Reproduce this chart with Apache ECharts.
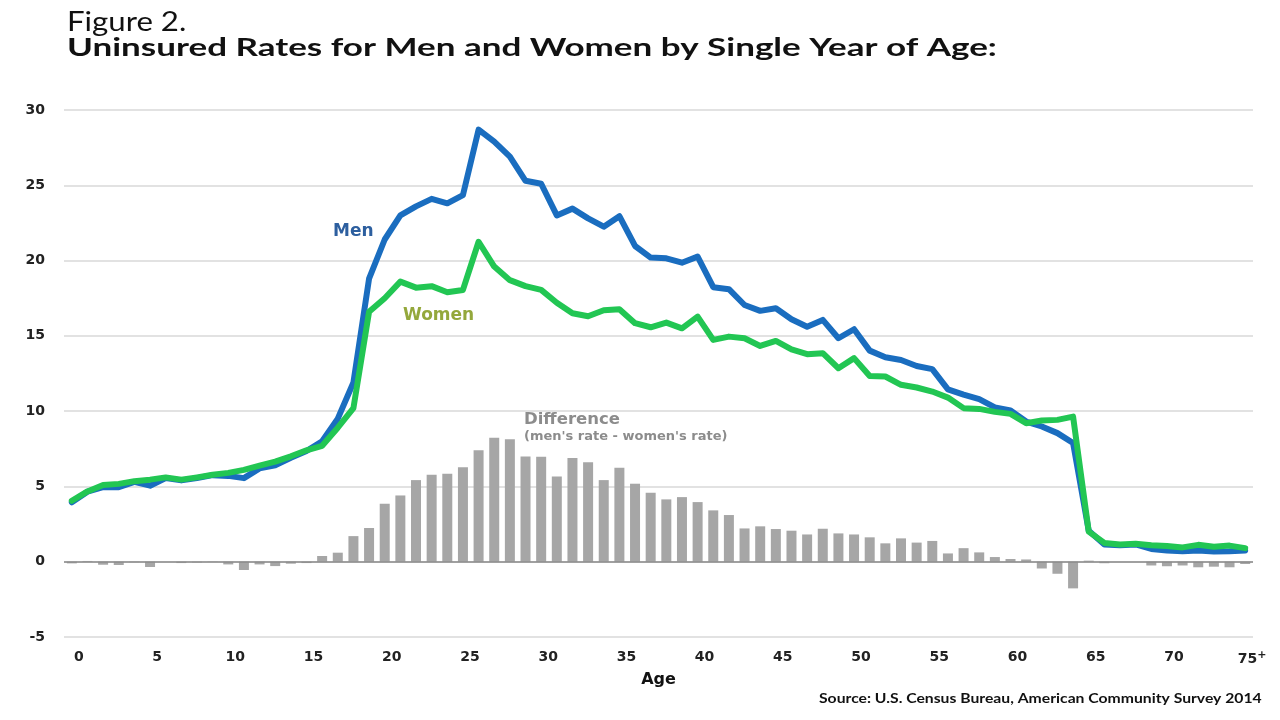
<!DOCTYPE html>
<html>
<head>
<meta charset="utf-8">
<script src="https://cdn.jsdelivr.net/npm/echarts@6/dist/echarts.min.js"></script>
<style>
  html, body { margin: 0; padding: 0; background: #ffffff; }
  #chart { width: 1280px; height: 720px; }
</style>
</head>
<body>
<div id="chart"></div>
<script>
// Ages 0..75 (75 = 75+)
const ages = Array.from({length: 76}, (_, i) => String(i));

// Uninsured rate (%) for men by single year of age
const men = [
  3.95, 4.65, 4.95, 4.95, 5.3, 5.05, 5.55, 5.4, 5.55, 5.75,
  5.7, 5.55, 6.2, 6.4, 6.9, 7.35, 8.0, 9.5, 11.9, 18.8,
  21.4, 23.0, 23.6, 24.1, 23.8, 24.35, 28.7, 27.9, 26.9, 25.3,
  25.1, 23.0, 23.45, 22.8, 22.25, 22.95, 20.97, 20.2, 20.15, 19.86,
  20.26, 18.23, 18.1, 17.05, 16.66, 16.83, 16.1, 15.6, 16.06, 14.84,
  15.44, 14.02, 13.58, 13.4, 13.0, 12.79, 11.45, 11.1, 10.8, 10.25,
  10.04, 9.31, 8.98, 8.54, 7.88, 2.05, 1.15, 1.1, 1.15, 0.85,
  0.75, 0.7, 0.75, 0.68, 0.7, 0.75
];

// Uninsured rate (%) for women by single year of age
const women = [
  4.05, 4.67, 5.1, 5.17, 5.35, 5.45, 5.6, 5.45, 5.6, 5.77,
  5.9, 6.1, 6.38, 6.65, 7.0, 7.4, 7.7, 8.9, 10.2, 16.6,
  17.5, 18.6, 18.2, 18.3, 17.9, 18.05, 21.25, 19.6, 18.7, 18.3,
  18.05, 17.2, 16.5, 16.3, 16.7, 16.77, 15.84, 15.57, 15.88, 15.5,
  16.28, 14.73, 14.95, 14.84, 14.33, 14.66, 14.1, 13.78, 13.85, 12.85,
  13.52, 12.34, 12.3, 11.75, 11.57, 11.3, 10.9, 10.2, 10.15, 9.95,
  9.82, 9.2, 9.38, 9.42, 9.64, 2.0, 1.25, 1.15, 1.2, 1.1,
  1.05, 0.95, 1.12, 1.0, 1.07, 0.9
];

// Difference (men's rate - women's rate)
const difference = [
  -0.11, 0.05, -0.2, -0.22, -0.03, -0.35, 0.0, -0.09, -0.05, -0.02,
  -0.18, -0.55, -0.18, -0.29, -0.13, -0.09, 0.38, 0.6, 1.7, 2.24,
  3.85, 4.4, 5.42, 5.77, 5.84, 6.28, 7.41, 8.23, 8.14, 6.99,
  6.97, 5.66, 6.88, 6.61, 5.42, 6.24, 5.18, 4.58, 4.14, 4.29,
  3.96, 3.41, 3.10, 2.21, 2.35, 2.17, 2.06, 1.81, 2.19, 1.88,
  1.81, 1.62, 1.22, 1.55, 1.27, 1.38, 0.55, 0.9, 0.62, 0.31,
  0.18, 0.15, -0.45, -0.8, -1.77, 0.07, -0.1, 0.0, 0.0, -0.25,
  -0.3, -0.25, -0.37, -0.33, -0.37, -0.15
];

const yTicks = { min: -5, max: 30, step: 5 };

const chart = echarts.init(document.getElementById('chart'), null, {renderer: 'canvas'});

const option = {
  backgroundColor: '#ffffff',
  animation: false,
  grid: { left: 64, right: 27, top: 110, bottom: 83 },
  xAxis: {
    type: 'category',
    data: ages,
    boundaryGap: true,
    name: 'Age',
    nameLocation: 'middle',
    nameGap: 34,
    nameTextStyle: { fontFamily: 'DejaVu Sans', fontWeight: 'bold', fontSize: 16, color: '#111' },
    axisLine: { show: false, onZero: false },
    axisTick: { show: false },
    axisLabel: {
      interval: 4,
      margin: 13,
      padding: [0, 0, 0, 14],
      fontFamily: 'DejaVu Sans',
      fontWeight: 'bold',
      fontSize: 14,
      color: '#222',
      formatter: function (v) { return v === '75' ? '{a|75}{s|+}' : v; },
      rich: {
        a: { fontFamily: 'DejaVu Sans', fontWeight: 'bold', fontSize: 14, color: '#222' },
        s: { fontFamily: 'DejaVu Sans', fontWeight: 'bold', fontSize: 11, color: '#222', verticalAlign: 'bottom', padding: [0, 0, 8, 0] }
      }
    },
    splitLine: { show: false }
  },
  yAxis: {
    type: 'value',
    min: yTicks.min,
    max: yTicks.max,
    interval: yTicks.step,
    axisLine: { show: false },
    axisTick: { show: false },
    axisLabel: { margin: 19, fontFamily: 'DejaVu Sans', fontWeight: 'bold', fontSize: 14, color: '#222' },
    splitLine: { lineStyle: { color: '#d9d9d9', width: 1.5 } }
  },
  series: [
    {
      name: 'Difference',
      type: 'bar',
      data: difference,
      barWidth: 10,
      itemStyle: { color: '#a6a6a6' },
      markLine: {
        silent: true,
        symbol: 'none',
        label: { show: false },
        lineStyle: { color: '#8a8a8a', width: 1.5, type: 'solid' },
        data: [{ yAxis: 0 }]
      },
      z: 1
    },
    {
      name: 'Men',
      type: 'line',
      data: men,
      symbol: 'none',
      lineStyle: { color: '#1a6dbf', width: 6, cap: 'round', join: 'round' },
      z: 3
    },
    {
      name: 'Women',
      type: 'line',
      data: women,
      symbol: 'none',
      lineStyle: { color: '#22c653', width: 6, cap: 'round', join: 'round' },
      z: 4
    }
  ],
  graphic: [
    { type: 'text', x: 67, y: 10, scaleX: 1.2, style: { text: 'Figure 2.', font: '26px Lato', fill: '#111' } },
    { type: 'text', x: 67, y: 35, scaleX: 1.40, style: { text: 'Uninsured Rates for Men and Women by Single Year of Age:', font: 'bold 25px Lato', fill: '#111' } },
    { type: 'text', x: 333, y: 223, style: { text: 'Men', font: 'bold 17px "DejaVu Sans"', fill: '#2d5f9f' } },
    { type: 'text', x: 403, y: 307, style: { text: 'Women', font: 'bold 17px "DejaVu Sans"', fill: '#94a83c' } },
    { type: 'text', x: 524, y: 411, style: { text: 'Difference', font: 'bold 16.5px "DejaVu Sans"', fill: '#8c8c8c' } },
    { type: 'text', x: 524, y: 430, style: { text: "(men's rate - women's rate)", font: 'bold 13px "DejaVu Sans"', fill: '#8c8c8c' } },
    { type: 'text', x: 819, y: 692, scaleX: 1.21, style: { text: 'Source: U.S. Census Bureau, American Community Survey 2014', font: 'bold 13px Lato', fill: '#111' } }
  ]
};

chart.setOption(option);
</script>
</body>
</html>
